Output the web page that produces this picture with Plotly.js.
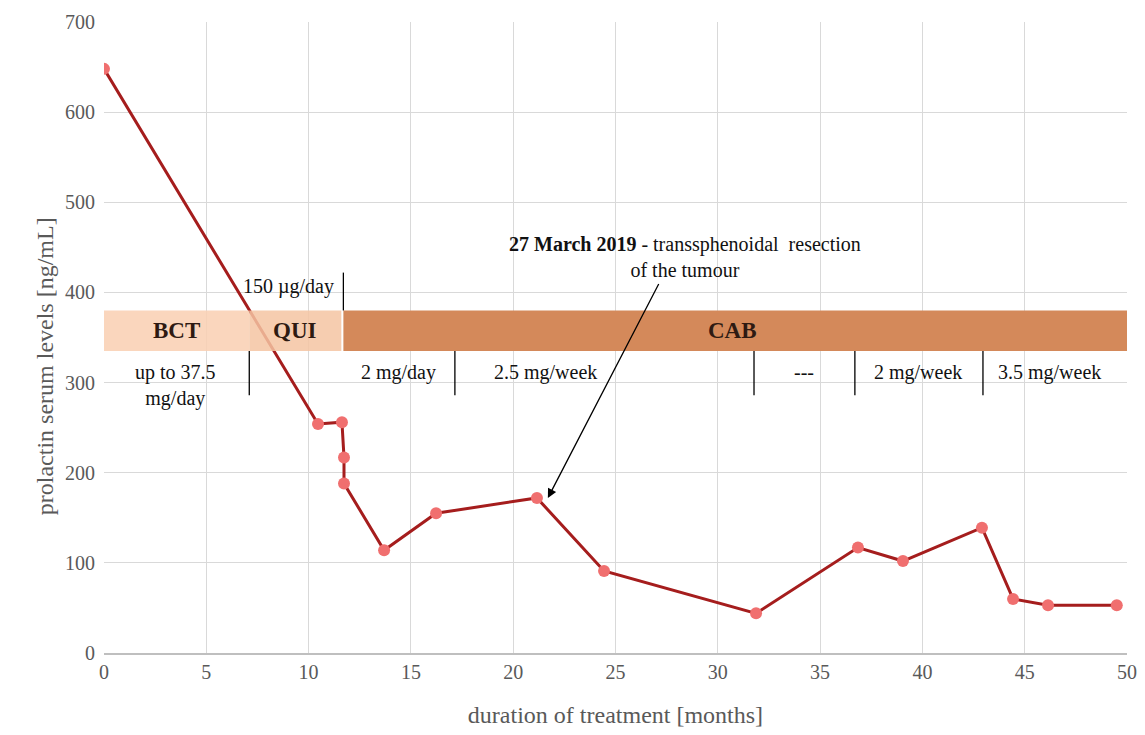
<!DOCTYPE html>
<html>
<head>
<meta charset="utf-8">
<script src="https://cdn.plot.ly/plotly-3.0.1.min.js"></script>
<style>html,body{margin:0;padding:0;background:#fff;}#chart{width:1145px;height:735px;}</style>
</head>
<body>
<div id="chart"></div>
<script>
// Prolactin measurements
const months = [0, 10.46, 11.63, 11.73, 11.73, 13.69, 16.23, 21.16, 24.44, 31.87, 36.85, 39.05, 42.91, 44.43, 46.14, 49.5];
const prolactin = [648, 254, 256, 217, 188, 114, 155, 172, 91, 44, 117, 102, 139, 60, 53, 53];

// Treatment phases
const phaseNames = ['BCT', 'QUI', 'CAB'];
const phaseStart = [0, 7.1, 11.7];
const phaseEnd = [7.1, 11.6, 50];
const phaseColors = ['#f9cfb2', '#f5c4a2', '#d4895a'];

// Dose segments below band
const doseLabels = ['up to 37.5<br>mg/day', '2 mg/day', '2.5 mg/week', '---', '2 mg/week', '3.5 mg/week'];
const doseCenters = [3.5, 14.4, 21.6, 34.2, 39.8, 46.2];
const doseBoundaries = [7.1, 17.15, 31.77, 36.7, 42.96];

// Quinagolide dose label
const quiDoseLabel = '150 µg/day';
const quiDoseX = 9.0;
const quiBoundary = 11.7;

// Surgery annotation
const surgeryX = 21.65, surgeryY = 170;
const surgeryText = '<b>27 March 2019</b> - transsphenoidal  resection<br>of the tumour';

const xTitle = 'duration of treatment [months]';
const yTitle = 'prolactin serum levels [ng/mL]';

const bandLow = 335, bandHigh = 380;

const shapes = [];
const annotations = [];
const serif = 'Liberation Serif, Times New Roman, serif';

phaseNames.forEach((n, i) => {
  shapes.push({type: 'rect', xref: 'x', yref: 'y', x0: phaseStart[i], x1: phaseEnd[i], y0: bandLow, y1: bandHigh,
    fillcolor: phaseColors[i], opacity: i < 2 ? 0.85 : 1, line: {width: 0}, layer: 'above'});
  annotations.push({x: (phaseStart[i] + Math.min(phaseEnd[i], 50)) / 2 + (i === 2 ? -0.15 : 0), y: (bandLow + bandHigh) / 2,
    xref: 'x', yref: 'y', text: '<b>' + n + '</b>', showarrow: false,
    font: {family: serif, size: 23, color: '#2e1a12'}});
});
doseBoundaries.forEach(b => {
  shapes.push({type: 'line', xref: 'x', yref: 'y', x0: b, x1: b, y0: bandLow, y1: 286,
    line: {color: '#000', width: 1.3}, layer: 'above'});
});
shapes.push({type: 'line', xref: 'x', yref: 'y', x0: quiBoundary, x1: quiBoundary, y0: bandHigh, y1: 422,
  line: {color: '#000', width: 1.3}, layer: 'above'});
doseLabels.forEach((t, i) => {
  annotations.push({x: doseCenters[i], y: 311.5, yanchor: i === 0 ? 'top' : 'middle',
    yshift: i === 0 ? 13 : 0, xref: 'x', yref: 'y', text: t, showarrow: false,
    font: {family: serif, size: 20, color: '#111'}});
});
annotations.push({x: quiDoseX, y: 407, xref: 'x', yref: 'y', text: quiDoseLabel, showarrow: false,
  font: {family: serif, size: 20, color: '#111'}});
annotations.push({x: 28.4, y: 439, xref: 'x', yref: 'y', text: surgeryText, showarrow: false,
  font: {family: serif, size: 20, color: '#111'}});
annotations.push({x: surgeryX, y: surgeryY, ax: 27.15, ay: 411, xref: 'x', yref: 'y', axref: 'x', ayref: 'y',
  text: '', showarrow: true, arrowhead: 2, arrowsize: 1.4, arrowwidth: 1.3, arrowcolor: '#000', standoff: 2});
annotations.push({x: -0.072, y: 0.455, xref: 'paper', yref: 'paper', text: yTitle, textangle: -90, showarrow: false,
  font: {family: serif, size: 24, color: '#595959'}});

const trace = {
  x: months, y: prolactin, type: 'scatter', mode: 'lines+markers',
  line: {color: '#a51d1d', width: 3},
  marker: {color: '#f06f6f', size: 12},
  hoverinfo: 'x+y'
};

const layout = {
  width: 1145, height: 735,
  margin: {l: 104, r: 18, t: 22, b: 82},
  paper_bgcolor: '#fff', plot_bgcolor: '#fff',
  showlegend: false,
  xaxis: {
    range: [0, 50], dtick: 5, tick0: 0,
    showgrid: true, gridcolor: '#d9d9d9', gridwidth: 1,
    zeroline: false, showline: true, linecolor: '#bfbfbf', linewidth: 1.5,
    ticks: '', tickfont: {family: serif, size: 20, color: '#595959'},
    title: {text: xTitle, font: {family: serif, size: 24, color: '#595959'}, standoff: 24}
  },
  yaxis: {
    range: [0, 700], dtick: 100,
    showgrid: true, gridcolor: '#d9d9d9', gridwidth: 1,
    zeroline: false, showline: false,
    ticks: '', ticklabelstandoff: 8, tickfont: {family: serif, size: 20, color: '#595959'}
  },
  shapes: shapes,
  annotations: annotations
};

Plotly.newPlot('chart', [trace], layout, {displayModeBar: false, staticPlot: true});
</script>
</body>
</html>
